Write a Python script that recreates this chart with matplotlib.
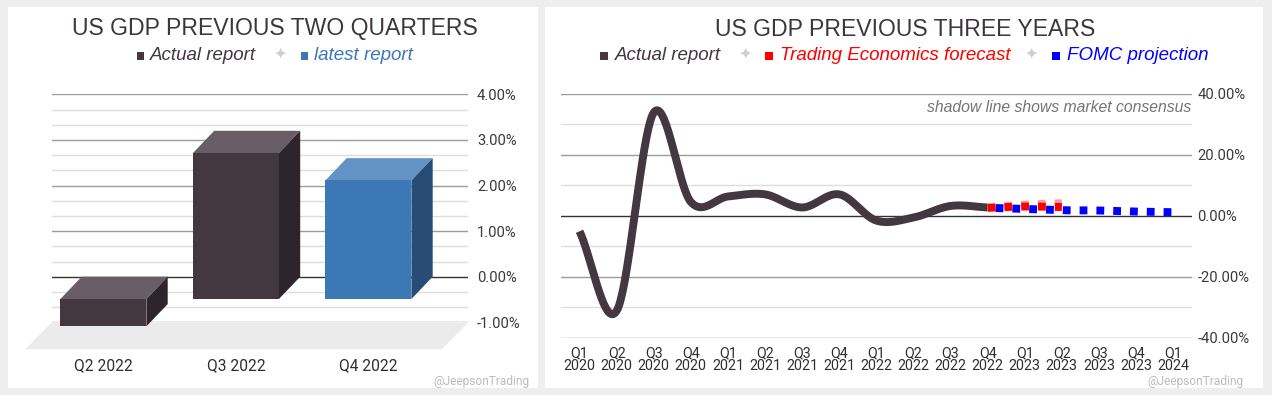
import numpy as np
import matplotlib
matplotlib.use("Agg")
import matplotlib.pyplot as plt
from matplotlib.patches import Rectangle, Polygon

plt.rcParams["lines.scale_dashes"] = False

W, H, DPI = 1272, 395, 100

# ---------------- data ----------------
bar_cats = ["Q2 2022", "Q3 2022", "Q4 2022"]
bar_vals = [-0.6, 3.2, 2.6]
bar_kind = ["actual", "actual", "latest"]
left_ticks = [-1, 0, 1, 2, 3, 4]

quarters = ["Q1\n2020", "Q2\n2020", "Q3\n2020", "Q4\n2020",
            "Q1\n2021", "Q2\n2021", "Q3\n2021", "Q4\n2021",
            "Q1\n2022", "Q2\n2022", "Q3\n2022", "Q4\n2022",
            "Q1\n2023", "Q2\n2023", "Q3\n2023", "Q4\n2023", "Q1\n2024"]
actual_gdp = [-5.1, -31.2, 33.8, 4.5, 6.3, 7.0, 2.7, 7.0, -1.6, -0.6, 3.2, 2.7]
te_forecast = [2.6, 3.0, 2.85]          # Q4 2022 .. Q2 2023
consensus = [2.6, 3.6, 4.1]             # Q4 2022 .. Q2 2023
fomc_projection = [2.6, 2.2, 1.8, 1.7, 1.35, 1.15]  # Q4 2022 .. Q1 2024
right_ticks = [-40, -20, 0, 20, 40]

# ---------------- helpers ----------------
def fx(x):
    return x / W

def fy(y):
    return 1 - y / H

def spline(xs, ys, n=40):
    xs = np.asarray(xs, float)
    ys = np.asarray(ys, float)
    m = np.zeros_like(ys)
    m[1:-1] = (ys[2:] - ys[:-2]) / 2.0
    m[0] = ys[1] - ys[0]
    m[-1] = ys[-1] - ys[-2]
    outx, outy = [], []
    for i in range(len(xs) - 1):
        t = np.linspace(0, 1, n, endpoint=(i == len(xs) - 2))
        h00 = 2 * t**3 - 3 * t**2 + 1
        h10 = t**3 - 2 * t**2 + t
        h01 = -2 * t**3 + 3 * t**2
        h11 = t**3 - t**2
        outy.append(h00 * ys[i] + h10 * m[i] + h01 * ys[i + 1] + h11 * m[i + 1])
        outx.append(xs[i] + t * (xs[i + 1] - xs[i]))
    return np.concatenate(outx), np.concatenate(outy)

DARK = "#433740"
TITLE_C = "#3e363c"
BLUE_BAR = "#3c78b5"

fig = plt.figure(figsize=(W / DPI, H / DPI), dpi=DPI)
fig.patch.set_facecolor("#eeeeee")

# panels
fig.patches.append(Rectangle((fx(8), fy(388)), (538 - 8) / W, (388 - 7) / H,
                             transform=fig.transFigure, facecolor="white",
                             edgecolor="none", zorder=-10))
fig.patches.append(Rectangle((fx(545), fy(388)), (1263 - 545) / W, (388 - 7) / H,
                             transform=fig.transFigure, facecolor="white",
                             edgecolor="none", zorder=-10))

# ================= LEFT CHART =================
L_left, L_right = 51.7, 468.3
L_top, L_bot = 94.3, 322.3
ax1 = fig.add_axes([fx(L_left), fy(L_bot), (L_right - L_left) / W, (L_bot - L_top) / H])
ax1.set_facecolor("none")
px_per_unit = 132.5
x_min = -(124.7 - L_left) / px_per_unit
ax1.set_xlim(x_min, x_min + (L_right - L_left) / px_per_unit)
ax1.set_ylim(-1, 4)
px_per_pct = (L_bot - L_top) / 5.0
for s in ax1.spines.values():
    s.set_visible(False)

# gridlines
for k in range(-3, 13):
    v = k / 3.0
    if k % 3 == 0:
        continue
    ax1.axhline(v, color="#dedede", lw=1, zorder=0)
for v in left_ticks:
    ax1.axhline(v, color="#333333" if v == 0 else "#9c9c9c", lw=1, zorder=0.2)

# floor
fdx = -26.5 / px_per_unit
fdy = -27.0 / px_per_pct
x0f, x1f = ax1.get_xlim()
ax1.add_patch(Polygon([(x0f, -1), (x1f, -1), (x1f + fdx, -1 + fdy), (x0f + fdx, -1 + fdy)],
                      closed=True, facecolor="#ebebeb", edgecolor="none",
                      zorder=0.1, clip_on=False))

# bars
bdx = -21.3 / px_per_unit
bdy = -22.3 / px_per_pct
bw = 86.0 / px_per_unit
colors = {
    "actual": ("#433740", "#695e68", "#2e242c"),
    "latest": ("#3c78b5", "#6393c4", "#274c76"),
}
for i, (v, kind) in enumerate(zip(bar_vals, bar_kind)):
    front_c, top_c, side_c = colors[kind]
    lo, hi = min(0, v), max(0, v)
    x0, x1 = i - bw / 2, i + bw / 2
    ax1.add_patch(Polygon([(x0 + bdx, hi + bdy), (x1 + bdx, hi + bdy), (x1, hi), (x0, hi)],
                          closed=True, facecolor=top_c, edgecolor="none", zorder=2, clip_on=False))
    ax1.add_patch(Polygon([(x1 + bdx, lo + bdy), (x1, lo), (x1, hi), (x1 + bdx, hi + bdy)],
                          closed=True, facecolor=side_c, edgecolor="none", zorder=2, clip_on=False))
    ax1.add_patch(Rectangle((x0 + bdx, lo + bdy), bw, hi - lo, facecolor=front_c,
                            edgecolor="none", zorder=3, clip_on=False))

ax1.yaxis.tick_right()
ax1.set_yticks(left_ticks)
ax1.set_yticklabels([f"{v:.2f}%" for v in left_ticks], fontfamily="Roboto",
                    fontsize=10.6, color="#3a3a3a")
ax1.tick_params(axis="y", length=0, pad=6.3)
ax1.set_xticks([i + bdx for i in range(len(bar_cats))])
ax1.set_xticklabels(bar_cats, fontfamily="Roboto", fontsize=11.2, color="#2e2e2e")
ax1.tick_params(axis="x", length=0, pad=25.5)

fig.text(fx(274.6), fy(35), "US GDP PREVIOUS TWO QUARTERS", ha="center", va="baseline",
         fontfamily="Liberation Sans", fontsize=16.6, color=TITLE_C)

# legend helpers
def sq(x, y0, y1, c):
    fig.patches.append(Rectangle((fx(x), fy(y1)), 7.8 / W, (y1 - y0) / H,
                                 transform=fig.transFigure, facecolor=c,
                                 edgecolor="none"))

def star(xc):
    fig.text(fx(xc), fy(54), "\u2726", ha="center", va="center",
             fontfamily="DejaVu Sans", fontsize=11.5, color="#cfcfcf")

LEG_FS = 13.5
sq(136.5, 52, 60, DARK)
fig.text(fx(149.8), fy(60), "Actual report", ha="left", va="baseline", style="italic",
         fontfamily="Liberation Sans", fontsize=LEG_FS, color=DARK)
star(280)
sq(300.5, 52, 60, BLUE_BAR)
fig.text(fx(314), fy(60), "latest report", ha="left", va="baseline", style="italic",
         fontfamily="Liberation Sans", fontsize=LEG_FS, color=BLUE_BAR)

fig.text(fx(530), fy(385), "@JeepsonTrading", ha="right", va="baseline",
         fontfamily="Roboto", fontsize=8.6, color="#bdbdbd")

# ================= RIGHT CHART =================
R_left, R_right = 561.0, 1191.7
R_top, R_bot = 93.7, 337.7
ax2 = fig.add_axes([fx(R_left), fy(R_bot), (R_right - R_left) / W, (R_bot - R_top) / H])
ax2.set_facecolor("none")
ax2.set_xlim(-0.5, len(quarters) - 0.5)
ax2.set_ylim(-40, 40)
for s in ax2.spines.values():
    s.set_visible(False)

for v in [-30, -10, 10, 30]:
    ax2.axhline(v, color="#dedede", lw=1, zorder=0)
for v in right_ticks:
    ax2.axhline(v, color="#333333" if v == 0 else "#9c9c9c", lw=1, zorder=0.2)

LW = 5.7
sx, sy = spline(np.arange(len(actual_gdp)), actual_gdp)
ax2.plot(sx, sy, color=DARK, lw=LW, solid_capstyle="butt", solid_joinstyle="round",
         zorder=3)

start = len(actual_gdp) - 1
pt = 72.0 / DPI
dash_on, dash_off = 7.8 * pt, 9.0 * pt

cx, cy = spline(np.arange(start, start + len(consensus)), consensus)
l1, = ax2.plot(cx, cy, color="#ff9c9c", lw=LW, dash_capstyle="butt", zorder=3.5)
l1.set_linestyle((0, (dash_on, dash_off)))
rx, ry = spline(np.arange(start, start + len(te_forecast)), te_forecast)
l2, = ax2.plot(rx, ry, color="#ff0000", lw=LW, dash_capstyle="butt", zorder=3.6)
l2.set_linestyle((0, (dash_on, dash_off)))
bx, by = spline(np.arange(start, start + len(fomc_projection)), fomc_projection)
l3, = ax2.plot(bx, by, color="#0000ff", lw=LW, dash_capstyle="butt", zorder=3.7)
l3.set_linestyle((8.8 * pt, (dash_on, dash_off)))

ax2.yaxis.tick_right()
ax2.set_yticks(right_ticks)
ax2.set_yticklabels([f"{v:.2f}%" for v in right_ticks], fontfamily="Roboto",
                    fontsize=10.6, color="#3a3a3a")
ax2.tick_params(axis="y", length=0, pad=4.0)
ax2.set_xticks(range(len(quarters)))
ax2.set_xticklabels(quarters, fontfamily="Roboto", fontsize=10.3, color="#2e2e2e",
                    linespacing=0.9)
ax2.tick_params(axis="x", length=0, pad=6.0)

fig.text(fx(905), fy(36), "US GDP PREVIOUS THREE YEARS", ha="center", va="baseline",
         fontfamily="Liberation Sans", fontsize=16.6, color=TITLE_C)

sq(600, 52, 60, DARK)
fig.text(fx(615), fy(60), "Actual report", ha="left", va="baseline", style="italic",
         fontfamily="Liberation Sans", fontsize=LEG_FS, color=DARK)
star(745)
sq(765, 52, 60, "#ff0000")
fig.text(fx(780), fy(60), "Trading Economics forecast", ha="left", va="baseline",
         style="italic", fontfamily="Liberation Sans", fontsize=LEG_FS, color="#ff0000")
star(1031)
sq(1052, 52, 60, "#0000ff")
fig.text(fx(1067), fy(60), "FOMC projection", ha="left", va="baseline", style="italic",
         fontfamily="Liberation Sans", fontsize=LEG_FS, color="#0000ff")

fig.text(fx(1191), fy(111.5), "shadow line shows market consensus", ha="right",
         va="baseline", style="italic", fontfamily="Liberation Sans", fontsize=11.3,
         color="#757575")

fig.text(fx(1243), fy(385), "@JeepsonTrading", ha="right", va="baseline",
         fontfamily="Roboto", fontsize=8.6, color="#bdbdbd")

fig.savefig("out.png", dpi=DPI, facecolor=fig.get_facecolor())
